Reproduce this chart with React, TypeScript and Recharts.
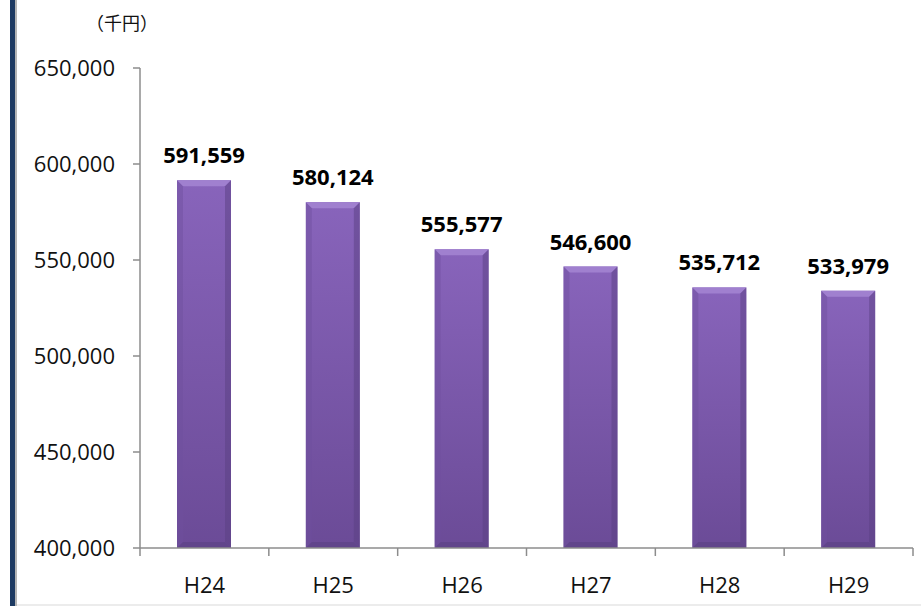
import { BarChart, Bar, XAxis, YAxis, LabelList } from "recharts";

const years = ["H24", "H25", "H26", "H27", "H28", "H29"];
const amounts = [591559, 580124, 555577, 546600, 535712, 533979];
const yTicks = [400000, 450000, 500000, 550000, 600000, 650000];

const data = years.map((name, i) => ({ name, value: amounts[i] }));

const FONT = "'Open Sans', 'Noto Sans', sans-serif";
const AXIS = "#8c8c8c";
const X_TICK_SIZE = 8;
const X_TICK_MARGIN = 21;

function BevelBar(props: any) {
  const { x, y, width, height } = props;
  if (!height || height <= 0) return null;
  const b = 6;
  return (
    <g>
      <rect x={x} y={y} width={width} height={height} fill="url(#barBody)" />
      {/* top bevel */}
      <polygon
        points={`${x},${y} ${x + width},${y} ${x + width - b},${y + b} ${x + b},${y + b}`}
        fill="#a080cf"
      />
      {/* left bevel */}
      <polygon
        points={`${x},${y} ${x + b},${y + b} ${x + b},${y + height - b} ${x},${y + height}`}
        fill="#6f4f9e"
        opacity={0.45}
      />
      {/* right bevel */}
      <polygon
        points={`${x + width},${y} ${x + width - b},${y + b} ${x + width - b},${y + height - b} ${x + width},${y + height}`}
        fill="#5a3f82"
        opacity={0.5}
      />
      {/* bottom bevel */}
      <polygon
        points={`${x},${y + height} ${x + b},${y + height - b} ${x + width - b},${y + height - b} ${x + width},${y + height}`}
        fill="#5f4488"
        opacity={0.8}
      />
    </g>
  );
}

function XTick(props: any) {
  const { x, y, payload, index } = props;
  const off = payload?.offset ?? 64;
  const top = y - X_TICK_SIZE - X_TICK_MARGIN;
  return (
    <g>
      <line x1={x - off} y1={top} x2={x - off} y2={top + X_TICK_SIZE} stroke={AXIS} strokeWidth={1.5} />
      {index === years.length - 1 && (
        <line x1={x + off} y1={top} x2={x + off} y2={top + X_TICK_SIZE} stroke={AXIS} strokeWidth={1.5} />
      )}
      <text x={x} y={y} dy="0.71em" textAnchor="middle" fontSize={22} fontFamily={FONT} fill="#111">
        {payload.value}
      </text>
    </g>
  );
}

export default function App() {
  return (
    <div style={{ position: "absolute", left: 0, top: 0, width: 921, height: 606, background: "#fff", overflow: "hidden" }}>
      <div style={{ position: "absolute", left: 10, top: 0, width: 5, height: 606, background: "#1d3a62" }} />
      <div style={{ position: "absolute", left: 15, top: 0, width: 2, height: 606, background: "#b4b4b4" }} />
      <div style={{ position: "absolute", left: 17, top: 604, width: 904, height: 2, background: "#ececec" }} />
      <div
        style={{
          position: "absolute",
          left: 86,
          top: 9,
          fontSize: 18,
          fontFamily: "'Noto Sans CJK JP', sans-serif",
          color: "#111",
          lineHeight: "26px",
          whiteSpace: "nowrap",
        }}
      >
        （千円）
      </div>
      <BarChart
        width={921}
        height={606}
        data={data}
        margin={{ top: 68, right: 8, bottom: 0, left: 0 }}
        style={{ position: "absolute", left: 0, top: 0 }}
      >
        <defs>
          <linearGradient id="barBody" x1="0" y1="0" x2="0" y2="1">
            <stop offset="0%" stopColor="#8864bb" />
            <stop offset="100%" stopColor="#6b4b97" />
          </linearGradient>
        </defs>
        <XAxis
          dataKey="name"
          axisLine={{ stroke: AXIS, strokeWidth: 1.5 }}
          tickLine={false}
          tickSize={X_TICK_SIZE}
          tickMargin={X_TICK_MARGIN}
          height={58}
          tick={<XTick />}
          interval={0}
        />
        <YAxis
          domain={[400000, 650000]}
          ticks={yTicks}
          width={140}
          axisLine={{ stroke: AXIS, strokeWidth: 1.5 }}
          tickLine={{ stroke: AXIS, strokeWidth: 1.5 }}
          tickSize={7}
          tickMargin={18}
          tick={{ fontSize: 22, fontFamily: FONT, fill: "#111" }}
          tickFormatter={(v: number) => v.toLocaleString("en-US")}
          allowDataOverflow
        />
        <Bar dataKey="value" barSize={54} shape={<BevelBar />} isAnimationActive={false}>
          <LabelList
            dataKey="value"
            position="top"
            offset={17}
            formatter={(v: any) => Number(v).toLocaleString("en-US")}
            style={{ fontSize: 22, fontWeight: 700, fontFamily: FONT, fill: "#000" }}
          />
        </Bar>
      </BarChart>
    </div>
  );
}
